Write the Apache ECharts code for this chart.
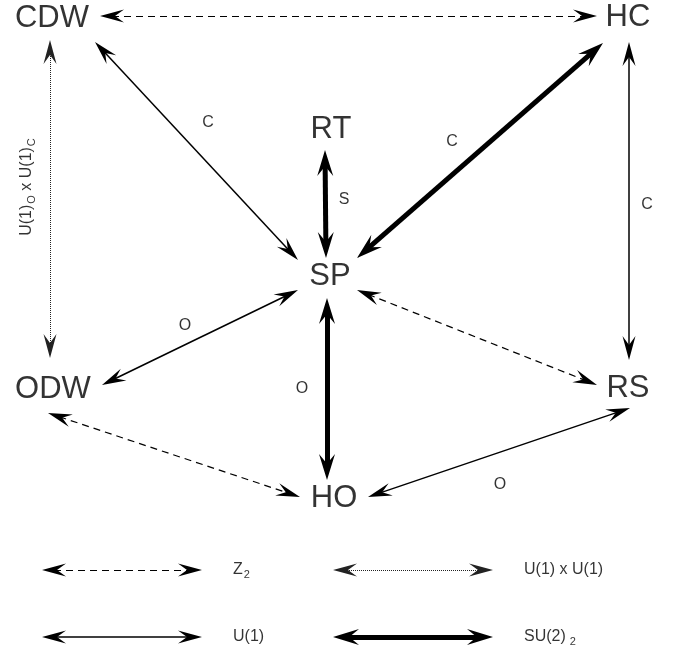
<!DOCTYPE html>
<html>
<head>
<meta charset="utf-8">
<script src="https://cdn.jsdelivr.net/npm/echarts@6/dist/echarts.min.js"></script>
<style>
    html, body { margin: 0; padding: 0; background: #fff; }
    #main { width: 675px; height: 656px; }
</style>
</head>
<body>
<div id="main"></div>
<script>
"use strict";
// nodes (label centres)
var nodeNames = ['CDW', 'HC', 'RT', 'SP', 'ODW', 'RS', 'HO'];
var nodeX = [52, 628, 331, 330, 53, 628, 334];
var nodeY = [18, 17, 129, 276, 389, 388, 498];

// edges: arrow tip at each end + symmetry kind
var edgeFrom = [[100, 16], [50, 40], [95, 42], [603, 43], [629, 42], [325, 150], [298, 290], [357, 290], [327, 298], [48, 413], [368, 497]];
var edgeTo   = [[597, 16], [50, 358], [298, 260], [357, 258], [629, 360], [326, 258], [102, 385], [597, 385], [327, 480], [300, 497], [630, 408]];
var edgeKind = ['z2', 'u1u1', 'u1', 'su2', 'u1', 'su2', 'u1', 'z2', 'su2', 'z2', 'u1'];

// edge labels
var edgeLabelText = ['C', 'C', 'C', 'S', 'O', 'O', 'O'];
var edgeLabelX = [208, 452, 647, 344, 185, 302, 500];
var edgeLabelY = [123, 142, 205, 200, 326, 389, 485];

// legend
var legendKind = ['z2', 'u1u1', 'u1', 'su2'];
var legendText = ['{a|Z}{s|2}', 'U(1) x U(1)', 'U(1)', '{a|SU(2)}{s| 2}'];
var legendX = [42, 333, 42, 333];
var legendY = [570, 570, 637, 637];

var ARROW = 'path://M0,0 L6,24 L0,15 L-6,24 Z';
var kindStyle = {
    z2:   { width: 1.2, type: [7, 5], size: [13, 24] },
    u1u1: { width: 1, type: [1, 1], size: [13, 24] },
    u1:   { width: 1.5, type: 'solid', size: [13, 24] },
    su2:  { width: 5, type: 'solid', size: [16, 26] }
};

// move p towards q by d
function pull(p, q, d) {
    var dx = q[0] - p[0], dy = q[1] - p[1];
    var len = Math.sqrt(dx * dx + dy * dy);
    return [p[0] + dx / len * d, p[1] + dy / len * d];
}

var chart = echarts.init(document.getElementById('main'));

var series = [];
var kinds = ['z2', 'u1u1', 'u1', 'su2'];
kinds.forEach(function (k) {
    var st = kindStyle[k];
    var half = st.size[1] / 2;
    var data = [];
    edgeKind.forEach(function (ek, i) {
        if (ek !== k) return;
        data.push({ coords: [pull(edgeFrom[i], edgeTo[i], half), pull(edgeTo[i], edgeFrom[i], half)] });
    });
    legendKind.forEach(function (lk, i) {
        if (lk !== k) return;
        var a = [legendX[i], legendY[i]], b = [legendX[i] + 160, legendY[i]];
        data.push({ coords: [pull(a, b, half), pull(b, a, half)] });
    });
    series.push({
        type: 'lines',
        coordinateSystem: 'cartesian2d',
        silent: true,
        symbol: [ARROW, ARROW],
        // [fromSize, toSize], each [w, h]
        symbolSize: [st.size, st.size],
        lineStyle: { color: k === 'u1u1' ? '#222' : '#000', width: st.width, type: st.type, opacity: 1, curveness: 0 },
        data: data
    });
});

var font = 'Liberation Sans, Arial, sans-serif';

// node names
series.push({
    type: 'scatter',
    silent: true,
    symbolSize: 1,
    itemStyle: { color: 'rgba(0,0,0,0)' },
    label: {
        show: true, position: 'inside', color: '#000', fontSize: 31, fontFamily: font,
        formatter: function (p) { return p.data[2]; }
    },
    data: nodeNames.map(function (n, i) { return [nodeX[i], nodeY[i], n]; })
});

// edge labels
series.push({
    type: 'scatter',
    silent: true,
    symbolSize: 1,
    itemStyle: { color: 'rgba(0,0,0,0)' },
    label: {
        show: true, position: 'inside', color: '#000', fontSize: 16, fontFamily: font,
        formatter: function (p) { return p.data[2]; }
    },
    data: edgeLabelText.map(function (t, i) { return [edgeLabelX[i], edgeLabelY[i], t]; })
});

// vertical label on the dotted edge
series.push({
    type: 'scatter',
    silent: true,
    symbolSize: 1,
    itemStyle: { color: 'rgba(0,0,0,0)' },
    label: {
        show: true, position: 'inside', rotate: 90, color: '#000', fontFamily: font,
        formatter: '{a|U(1)}{s|O}{a| x U(1)}{s|C}',
        rich: {
            a: { fontSize: 16, fontFamily: font, color: '#000' },
            s: { fontSize: 11, fontFamily: font, color: '#000', padding: [10, 0, 0, 1] }
        }
    },
    data: [[27, 187]]
});

// legend labels
series.push({
    type: 'scatter',
    silent: true,
    symbolSize: 1,
    itemStyle: { color: 'rgba(0,0,0,0)' },
    label: {
        show: true, position: 'inside', align: 'left', color: '#000', fontSize: 16, fontFamily: font,
        formatter: function (p) { return p.data[2]; },
        rich: {
            a: { fontSize: 16, fontFamily: font, color: '#000' },
            s: { fontSize: 11, fontFamily: font, color: '#000', padding: [10, 0, 0, 1] }
        }
    },
    data: legendText.map(function (t, i) { return [legendX[i] + 191, legendY[i], t]; })
});

chart.setOption({
    backgroundColor: '#fff',
    animation: false,
    grid: { left: 0, right: 0, top: 0, bottom: 0 },
    xAxis: { type: 'value', min: 0, max: 675, show: false },
    yAxis: { type: 'value', min: 0, max: 656, inverse: true, show: false },
    series: series
});
</script>
</body>
</html>
